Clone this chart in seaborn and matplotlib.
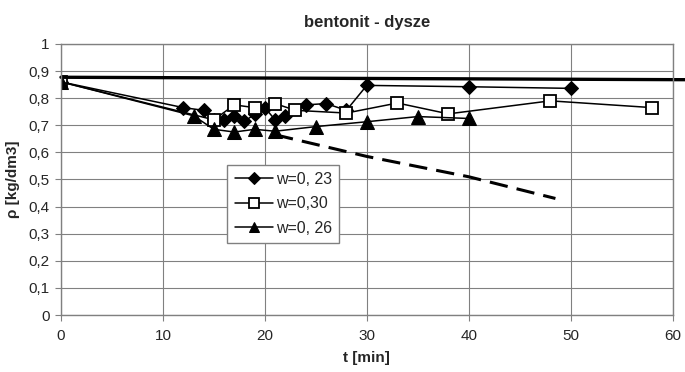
import seaborn as sns
import pandas as pd
import matplotlib.pyplot as plt
from matplotlib.ticker import FuncFormatter

# w=0, 23 (diamonds)
t_w23 = [0, 12, 14, 15, 16, 17, 18, 19, 20, 21, 22, 24, 26, 28, 30, 40, 50]
rho_w23 = [0.86, 0.765, 0.755, 0.72, 0.72, 0.735, 0.715, 0.74, 0.765, 0.72,
           0.735, 0.775, 0.78, 0.755, 0.847, 0.842, 0.836]

# w=0,30 (squares)
t_w30 = [0, 15, 17, 19, 21, 23, 28, 33, 38, 48, 58]
rho_w30 = [0.86, 0.72, 0.775, 0.765, 0.78, 0.755, 0.745, 0.782, 0.742, 0.79, 0.765]

# w=0, 26 (triangles)
t_w26 = [0, 13, 15, 17, 19, 21, 25, 30, 35, 40]
rho_w26 = [0.86, 0.735, 0.685, 0.675, 0.685, 0.678, 0.695, 0.713, 0.732, 0.725]

# reference lines
t_top = [0, 61.2]
rho_top = [0.877, 0.868]
t_dash = [21, 30, 40, 48.5]
rho_dash = [0.665, 0.585, 0.51, 0.43]

x_ticks = [0, 10, 20, 30, 40, 50, 60]
y_ticks = [0, 0.1, 0.2, 0.3, 0.4, 0.5, 0.6, 0.7, 0.8, 0.9, 1.0]

sns.set_style("white")
plt.rcParams["font.family"] = ["Liberation Sans", "DejaVu Sans"]

fig = plt.figure(figsize=(6.85, 3.72), dpi=100)
ax = fig.add_axes([0.089, 0.153, 0.893, 0.729])

series = [
    ("w=0, 23", t_w23, rho_w23, dict(marker="D", markersize=7.5, markerfacecolor="black")),
    ("w=0,30", t_w30, rho_w30, dict(marker="s", markersize=9, markerfacecolor="white",
                                    markeredgewidth=1.3)),
    ("w=0, 26", t_w26, rho_w26, dict(marker="^", markersize=10, markerfacecolor="black")),
]
for label, t, rho, kw in series:
    df = pd.DataFrame({"t": t, "rho": rho})
    sns.lineplot(data=df, x="t", y="rho", ax=ax, color="black", linewidth=1.1,
                 estimator=None, sort=False, label=label, markeredgecolor="black", **kw)

top = pd.DataFrame({"t": t_top, "rho": rho_top})
sns.lineplot(data=top, x="t", y="rho", ax=ax, color="black", linewidth=2.4,
             estimator=None, legend=False, clip_on=False)
dash = pd.DataFrame({"t": t_dash, "rho": rho_dash})
sns.lineplot(data=dash, x="t", y="rho", ax=ax, color="black", linewidth=2.2,
             estimator=None, legend=False, linestyle=(0, (6, 3)))

ax.set_xlim(0, 60)
ax.set_ylim(0, 1)
ax.set_xticks(x_ticks)
ax.set_yticks(y_ticks)
ax.yaxis.set_major_formatter(FuncFormatter(lambda v, p: ("%g" % round(v, 1)).replace(".", ",")))
ax.grid(True, color="#808080", linewidth=0.8)
ax.set_axisbelow(True)
for s in ax.spines.values():
    s.set_color("#808080")
    s.set_linewidth(1.0)
ax.tick_params(axis="both", labelsize=11, length=4, color="#808080", direction="out",
               left=True, bottom=True)
ax.tick_params(axis="x", pad=6)
ax.tick_params(axis="y", pad=4)

ax.set_title("bentonit - dysze", fontsize=12, fontweight="bold", pad=12)
ax.set_xlabel("t [min]", fontsize=11, fontweight="bold", labelpad=6)
ax.set_ylabel("ρ [kg/dm3]", fontsize=11, fontweight="bold", labelpad=6)

leg = ax.legend(loc="upper left", bbox_to_anchor=(0.272, 0.555), fontsize=11.5,
                frameon=True, fancybox=False, edgecolor="#808080", framealpha=1,
                handlelength=2.4, borderpad=0.45, labelspacing=0.6, handletextpad=0.2,
                markerscale=0.75, borderaxespad=0)
leg.get_frame().set_linewidth(1.0)

fig.savefig("out.png", dpi=100)
